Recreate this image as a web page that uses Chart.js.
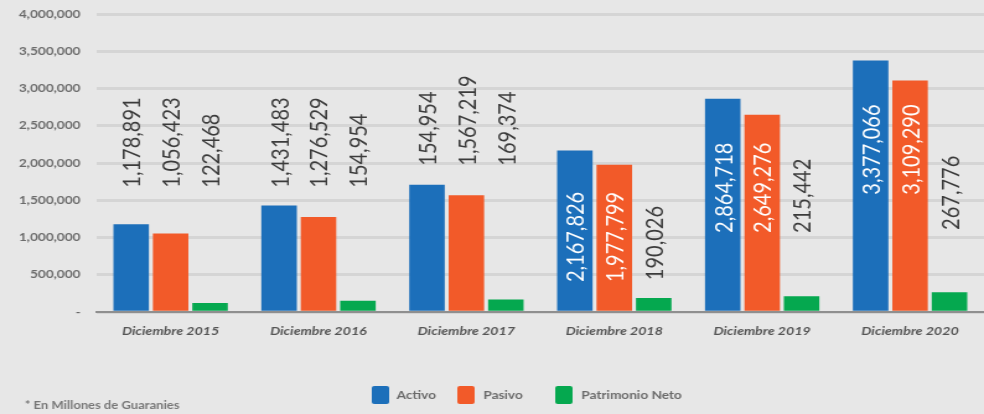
<!DOCTYPE html>
<html>
<head>
<meta charset="utf-8">
<script src="https://cdn.jsdelivr.net/npm/chart.js@4/dist/chart.umd.min.js"></script>
<style>
  html, body { margin: 0; padding: 0; background: #e7e7e7; overflow: hidden; }
  #wrap { width: 794px; height: 414px; transform: scaleX(1.2393); transform-origin: 0 0; }
  canvas { display: block; }
</style>
</head>
<body>
<div id="wrap"><canvas id="c" width="794" height="414"></canvas></div>
<script>
const categories = ["Diciembre 2015", "Diciembre 2016", "Diciembre 2017", "Diciembre 2018", "Diciembre 2019", "Diciembre 2020"];
const seriesNames = ["Activo", "Pasivo", "Patrimonio Neto"];
const activo = [1178891, 1431483, 1710000, 2167826, 2864718, 3377066];
const pasivo = [1056423, 1276529, 1567219, 1977799, 2649276, 3109290];
const patrimonio = [122468, 154954, 169374, 190026, 215442, 267776];
// value labels as printed in the source chart
const activoLabels = ["1,178,891", "1,431,483", "154,954", "2,167,826", "2,864,718", "3,377,066"];
const pasivoLabels = ["1,056,423", "1,276,529", "1,567,219", "1,977,799", "2,649,276", "3,109,290"];
const patrimonioLabels = ["122,468", "154,954", "169,374", "190,026", "215,442", "267,776"];
const yTicks = [0, 500000, 1000000, 1500000, 2000000, 2500000, 3000000, 3500000, 4000000];
const footnote = "* En Millones de Guaranies";

const colors = ["#1c6fba", "#f25a29", "#05a84f"];

// label placement (start of rotated text, in axis units) and colour
const labelPlacement = {
  start: [
    [1670000, 1670000, 1966000, 404000, 1064000, 1576000],
    [1670000, 1670000, 1966000, 404000, 1064000, 1576000],
    [1670000, 1670000, 1966000, 430000, 1064000, 1104000]
  ],
  inside: [
    [false, false, false, true, true, true],
    [false, false, false, true, true, true],
    [false, false, false, false, false, false]
  ]
};

const labelSets = [activoLabels, pasivoLabels, patrimonioLabels];

const valueLabelPlugin = {
  id: 'valueLabels',
  afterDatasetsDraw(chart) {
    const ctx = chart.ctx;
    const y = chart.scales.y;
    ctx.save();
    ctx.font = '20px Lato';
    ctx.textBaseline = 'middle';
    ctx.textAlign = 'left';
    chart.data.datasets.forEach((ds, di) => {
      const meta = chart.getDatasetMeta(di);
      meta.data.forEach((bar, i) => {
        const py = y.getPixelForValue(labelPlacement.start[di][i]);
        ctx.save();
        ctx.translate(bar.x, py);
        ctx.rotate(-Math.PI / 2);
        ctx.fillStyle = labelPlacement.inside[di][i] ? '#ffffff' : '#3b3b3b';
        ctx.fillText(labelSets[di][i], 0, 1);
        ctx.restore();
      });
    });
    ctx.restore();
  }
};

const legendPlugin = {
  id: 'customLegend',
  afterDraw(chart) {
    const ctx = chart.ctx;
    ctx.save();
    const boxX = [300, 369, 448];
    const textX = [320, 390, 469];
    ctx.font = 'bold 11px Lato';
    ctx.textBaseline = 'middle';
    ctx.textAlign = 'left';
    chart.data.datasets.forEach((ds, i) => {
      ctx.fillStyle = ds.backgroundColor;
      ctx.beginPath();
      ctx.roundRect(boxX[i], 386, 14, 18, 2);
      ctx.fill();
      ctx.fillStyle = '#6a6a6a';
      ctx.fillText(ds.label, textX[i], 395);
    });
    ctx.font = 'bold 10.5px Lato';
    ctx.fillStyle = '#777777';
    ctx.fillText(footnote, 20, 406);
    ctx.restore();
  }
};

new Chart(document.getElementById('c'), {
  type: 'bar',
  data: {
    labels: categories,
    datasets: [
      { label: seriesNames[0], data: activo, backgroundColor: colors[0] },
      { label: seriesNames[1], data: pasivo, backgroundColor: colors[1] },
      { label: seriesNames[2], data: patrimonio, backgroundColor: colors[2] }
    ]
  },
  options: {
    responsive: false,
    animation: false,
    devicePixelRatio: 1,
    layout: { padding: { top: 14, right: 0, left: 0, bottom: 64 } },
    datasets: { bar: { categoryPercentage: 0.8, barPercentage: 0.9 } },
    plugins: { legend: { display: false }, tooltip: { enabled: false } },
    scales: {
      x: {
        grid: { display: false, drawTicks: false },
        border: { display: true, color: '#8f8f8f', width: 2 },
        ticks: {
          color: '#555555',
          font: { family: 'Lato', size: 11.5, style: 'italic', weight: 'bold' },
          padding: 12
        }
      },
      y: {
        min: 0, max: 4000000,
        afterFit(scale) { scale.width = 78; scale.paddingTop = 0; },
        afterBuildTicks(scale) { scale.ticks = yTicks.map(v => ({ value: v })); },
        grid: { color: '#d5d5d5', lineWidth: 3, drawTicks: false },
        border: { display: false },
        ticks: {
          color: '#6b6b6b',
          font: { family: 'Lato', size: 11, weight: 'bold' },
          padding: 13,
          callback: v => v === 0 ? '-' : v.toLocaleString('en-US')
        }
      }
    }
  },
  plugins: [valueLabelPlugin, legendPlugin]
});
</script>
</body>
</html>
